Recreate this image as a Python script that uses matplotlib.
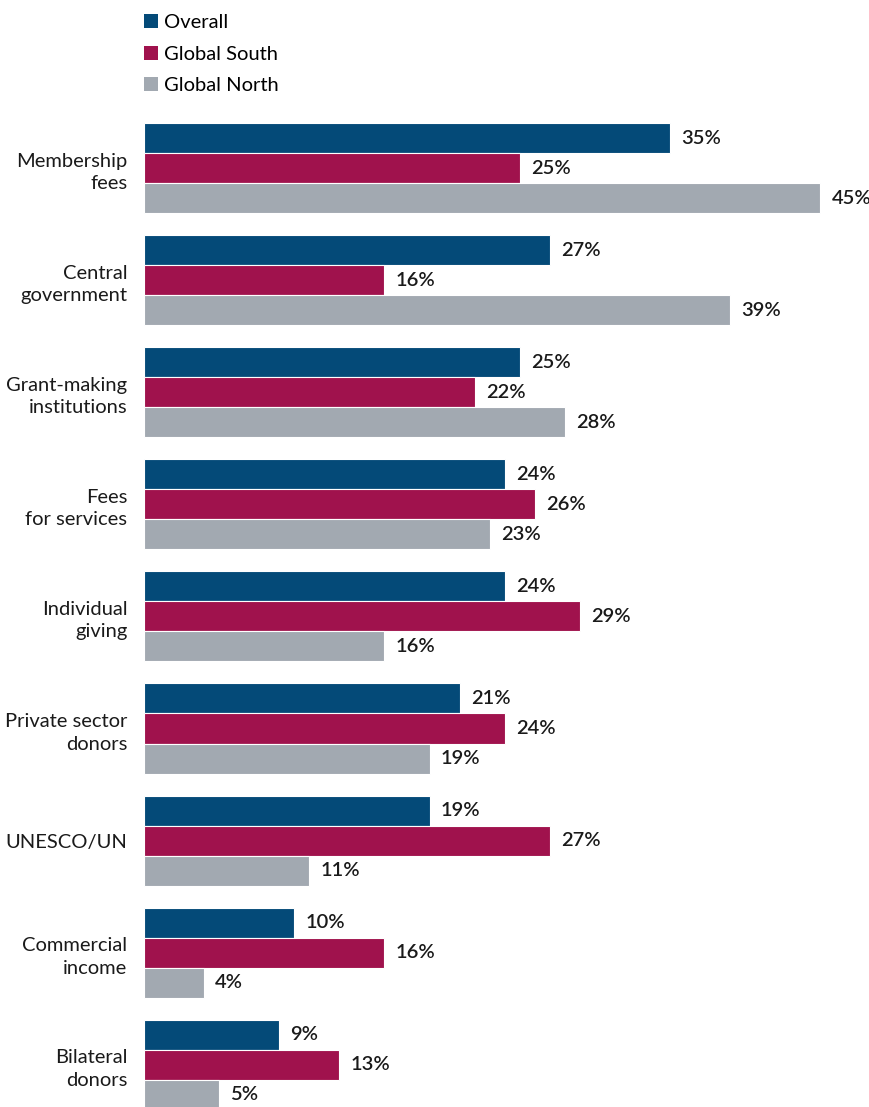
import matplotlib
matplotlib.use("Agg")
import matplotlib.pyplot as plt
from matplotlib.patches import Patch
import numpy as np

plt.rcParams['font.family'] = ['Lato', 'DejaVu Sans']

categories = ["Membership\nfees", "Central\ngovernment", "Grant-making\ninstitutions",
              "Fees\nfor services", "Individual\ngiving", "Private sector\ndonors",
              "UNESCO/UN", "Commercial\nincome", "Bilateral\ndonors"]
series_names = ["Overall", "Global South", "Global North"]
overall = [35, 27, 25, 24, 24, 21, 19, 10, 9]
south = [25, 16, 22, 26, 29, 24, 27, 16, 13]
north = [45, 39, 28, 23, 16, 19, 11, 4, 5]
colors = ["#044A78", "#A0124D", "#A2A9B1"]

W, H = 870, 1107
fig = plt.figure(figsize=(W/100, H/100), dpi=100)
ax = fig.add_axes([144/W, 0, 1-144/W, 1-112/H])

y = np.arange(len(categories))
h = 0.268
for k, (vals, c, name) in enumerate(zip([overall, south, north], colors, series_names)):
    bars = ax.barh(y + (k-1)*h, vals, height=h, color=c, edgecolor="white",
                   linewidth=0.8, label=name)
    ax.bar_label(bars, labels=[f"{v}%" for v in vals], padding=8, fontsize=14.5,
                 color="#1a1a1a", fontweight="semibold")

ax.set_xlim(0, 48.3)
ax.set_ylim(8.377, -0.5)
ax.set_yticks(y)
ax.set_yticklabels(categories, fontsize=14.5, color="#1a1a1a", linespacing=1.4)
ax.tick_params(axis='y', length=0, pad=12)
ax.set_xticks([])
for s in ax.spines.values():
    s.set_visible(False)

handles = [Patch(facecolor=c, edgecolor='none') for c in colors]
fig.legend(handles, series_names, loc="upper left", bbox_to_anchor=(140/W, 1-10/H),
           frameon=False, fontsize=14.5, handlelength=0.7, handleheight=0.7,
           handletextpad=0.3, labelspacing=0.72, borderaxespad=0, borderpad=0.2)

fig.savefig("out.png", dpi=100)
